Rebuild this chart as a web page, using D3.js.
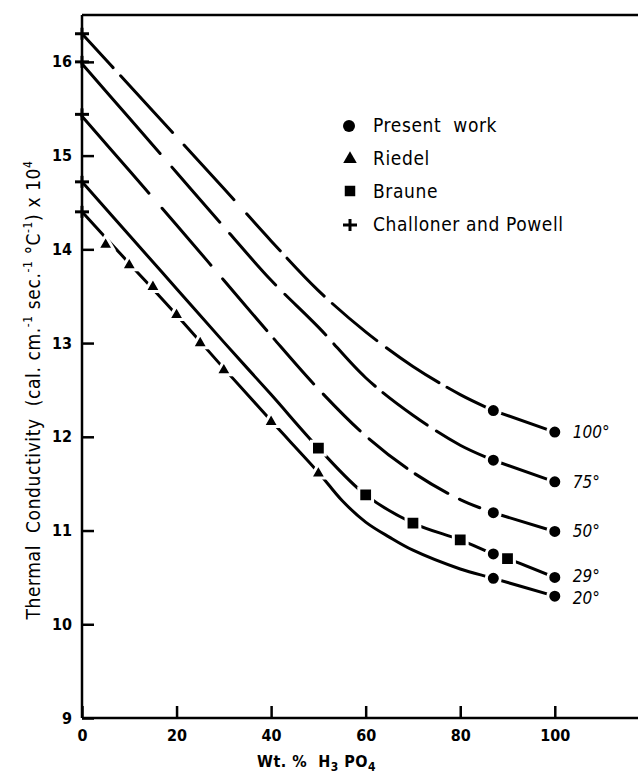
<!DOCTYPE html>
<html>
<head>
<meta charset="utf-8">
<script src="https://cdn.jsdelivr.net/npm/d3@7"></script>
<style>
  body { margin: 0; background: #fff; }
  svg { display: block; }
  .tick text { font-family: "DejaVu Sans Condensed", "DejaVu Sans", sans-serif; font-stretch: condensed; font-weight: bold; font-size: 16px; fill: #000; }
  .lbl { font-family: "DejaVu Sans Condensed", "DejaVu Sans", sans-serif; font-stretch: condensed; fill: #000; }
</style>
</head>
<body>
<svg id="chart" width="638" height="774"></svg>
<script>
// curve values (wt % H3PO4 -> conductivity x 10^4)
var curveX = [0, 10, 20, 30, 40, 50, 60, 70, 80, 87];
var curve100 = [16.30, 15.75, 15.20, 14.65, 14.09, 13.56, 13.12, 12.75, 12.45, 12.28];
var curve75 = [15.98, 15.40, 14.82, 14.24, 13.67, 13.17, 12.63, 12.23, 11.91, 11.75];
var curve50 = [15.42, 14.84, 14.26, 13.67, 13.08, 12.51, 12.01, 11.62, 11.33, 11.19];
var curve29x = [0, 10, 20, 30, 40, 50, 60, 70, 80, 87, 90, 100];
var curve29 = [14.72, 14.15, 13.58, 13.01, 12.45, 11.88, 11.38, 11.08, 10.90, 10.75, 10.70, 10.50];
var curve20x = [0, 10, 20, 30, 40, 50, 55, 60, 65, 70, 80, 87, 100];
var curve20 = [14.40, 13.85, 13.30, 12.73, 12.17, 11.62, 11.32, 11.09, 10.93, 10.79, 10.59, 10.49, 10.30];

// present work (circles) at 87 and 100 wt %
var presentX = [87, 100];
var present100 = [12.28, 12.05];
var present75 = [11.75, 11.52];
var present50 = [11.19, 10.99];
var present29 = [10.75, 10.50];
var present20 = [10.49, 10.30];

// Riedel (triangles), 20 deg
var riedelX = [5, 10, 15, 20, 25, 30, 40, 50];
var riedelY = [14.05, 13.83, 13.60, 13.30, 13.00, 12.71, 12.16, 11.61];
// Braune (squares), 29 deg
var brauneX = [50, 60, 70, 80, 90];
var brauneY = [11.88, 11.38, 11.08, 10.90, 10.70];
// Challoner and Powell (plus), 0 wt %
var challonerY = [16.30, 16.00, 15.44, 14.72, 14.40];

var tempLabels = ["100°", "75°", "50°", "29°", "20°"];
var xTicks = [0, 20, 40, 60, 80, 100];
var yTicks = [9, 10, 11, 12, 13, 14, 15, 16];
var legendNames = ["Present  work", "Riedel", "Braune", "Challoner and Powell"];

var svg = d3.select("#chart");
var x = d3.scaleLinear().domain([0, 117.6]).range([82, 638]);
var y = d3.scaleLinear().domain([9, 16.5]).range([718, 15]);

// frame: left, top, bottom
var frame = svg.append("g").attr("stroke", "#000").attr("stroke-width", 2.5).attr("fill", "none");
frame.append("line").attr("x1", x(0)).attr("x2", x(0)).attr("y1", y(16.5)).attr("y2", y(9));
frame.append("line").attr("x1", x(0)).attr("x2", 638).attr("y1", y(16.5)).attr("y2", y(16.5));
frame.append("line").attr("x1", x(0)).attr("x2", 638).attr("y1", y(9)).attr("y2", y(9));

var xAxis = svg.append("g")
  .attr("transform", "translate(0," + y(9) + ")")
  .call(d3.axisBottom(x).tickValues(xTicks).tickSize(-12).tickPadding(12));
var yAxis = svg.append("g")
  .attr("transform", "translate(" + x(0) + ",0)")
  .call(d3.axisLeft(y).tickValues(yTicks).tickSize(-12).tickPadding(10));
[xAxis, yAxis].forEach(a => {
  a.select(".domain").remove();
  a.selectAll(".tick line").attr("stroke", "#000").attr("stroke-width", 2.5);
});

var line = d3.line().x(d => x(d[0])).y(d => y(d[1])).curve(d3.curveCatmullRom.alpha(0.5));
var curves = svg.append("g").attr("fill", "none").attr("stroke", "#000")
  .attr("stroke-width", 3).attr("stroke-linecap", "round");

var dashed = [
  [curve100, present100, "46,11,77,17,74,19,50,10,53,11,58,12,63,9,45,40"],
  [curve75, present75, "119,18,73,15,69,13,58,12,59,10,55,11,56,40"],
  [curve50, present50, "102,20,75,18,68,11,60,14,52,12,48,10,38,13,22,40"]
];
dashed.forEach(c => {
  curves.append("path")
    .attr("d", line(d3.zip(curveX, c[0])))
    .attr("stroke-dasharray", c[2]);
  curves.append("path")
    .attr("d", line(d3.zip(presentX, c[1])));
});
curves.append("path").attr("d", line(d3.zip(curve29x, curve29)));
curves.append("path").attr("d", line(d3.zip(curve20x, curve20)));

// markers, white edge leaves a small break in the lines
var marks = svg.append("g").attr("fill", "#000").attr("stroke", "#fff").attr("stroke-width", 3);
var allPresent = [present100, present75, present50, present29, present20];
allPresent.forEach(p => {
  marks.selectAll(null).data(d3.zip(presentX, p)).join("circle")
    .attr("cx", d => x(d[0])).attr("cy", d => y(d[1])).attr("r", 7);
});
marks.selectAll(null).data(d3.zip(riedelX, riedelY)).join("path")
  .attr("transform", d => "translate(" + x(d[0]) + "," + y(d[1]) + ")")
  .attr("d", d3.symbol(d3.symbolTriangle, 110));
marks.selectAll(null).data(d3.zip(brauneX, brauneY)).join("path")
  .attr("transform", d => "translate(" + x(d[0]) + "," + y(d[1]) + ")")
  .attr("d", d3.symbol(d3.symbolSquare, 190));

function plus(g, cx, cy) {
  g.append("line").attr("x1", cx - 7).attr("x2", cx + 7).attr("y1", cy).attr("y2", cy);
  g.append("line").attr("x1", cx).attr("x2", cx).attr("y1", cy - 6).attr("y2", cy + 6);
}
var plusG = svg.append("g").attr("stroke", "#000").attr("stroke-width", 3);
challonerY.forEach(v => plus(plusG, x(0), y(v)));

// temperature labels
var labelY = [12.05, 11.52, 11.0, 10.52, 10.28];
svg.append("g").selectAll("text").data(tempLabels).join("text")
  .attr("class", "lbl")
  .attr("x", x(103.8))
  .attr("y", (d, i) => y(labelY[i]) + 6)
  .attr("font-size", 17).attr("font-style", "italic")
  .text(d => d);

// legend
var lg = svg.append("g").attr("transform", "translate(349,126)");
lg.append("circle").attr("cx", 0).attr("cy", 0).attr("r", 6);
lg.append("path").attr("transform", "translate(1,33)").attr("d", d3.symbol(d3.symbolTriangle, 80));
lg.append("path").attr("transform", "translate(1,65)").attr("d", d3.symbol(d3.symbolSquare, 110));
plus(lg.append("g").attr("stroke", "#000").attr("stroke-width", 3), 1, 99);
lg.selectAll("text").data(legendNames).join("text")
  .attr("class", "lbl")
  .attr("x", 24)
  .attr("y", (d, i) => 6 + i * 33)
  .attr("font-size", 19)
  .attr("letter-spacing", 0.6)
  .style("white-space", "pre")
  .text(d => d);

// axis titles
var xt = svg.append("text").attr("class", "lbl")
  .attr("x", 257).attr("y", 767)
  .attr("font-size", 16).attr("font-weight", "bold")
  .attr("letter-spacing", 0.5)
  .style("white-space", "pre");
xt.append("tspan").text("Wt. %  H");
xt.append("tspan").attr("dy", 4).attr("font-size", 12).text("3");
xt.append("tspan").attr("dy", -4).text(" PO");
xt.append("tspan").attr("dy", 4).attr("font-size", 12).text("4");

var yt = svg.append("text").attr("class", "lbl")
  .attr("transform", "translate(40,390) rotate(-90)")
  .attr("text-anchor", "middle")
  .attr("font-size", 19)
  .attr("letter-spacing", 0.6)
  .style("white-space", "pre");
yt.append("tspan").text("Thermal  Conductivity  (cal. cm.");
yt.append("tspan").attr("dy", -8).attr("font-size", 12).text("-1");
yt.append("tspan").attr("dy", 8).text(" sec.");
yt.append("tspan").attr("dy", -8).attr("font-size", 12).text("-1");
yt.append("tspan").attr("dy", 8).text(" °C");
yt.append("tspan").attr("dy", -8).attr("font-size", 12).text("-1");
yt.append("tspan").attr("dy", 8).text(") x 10");
yt.append("tspan").attr("dy", -8).attr("font-size", 12).text("4");
</script>
</body>
</html>
